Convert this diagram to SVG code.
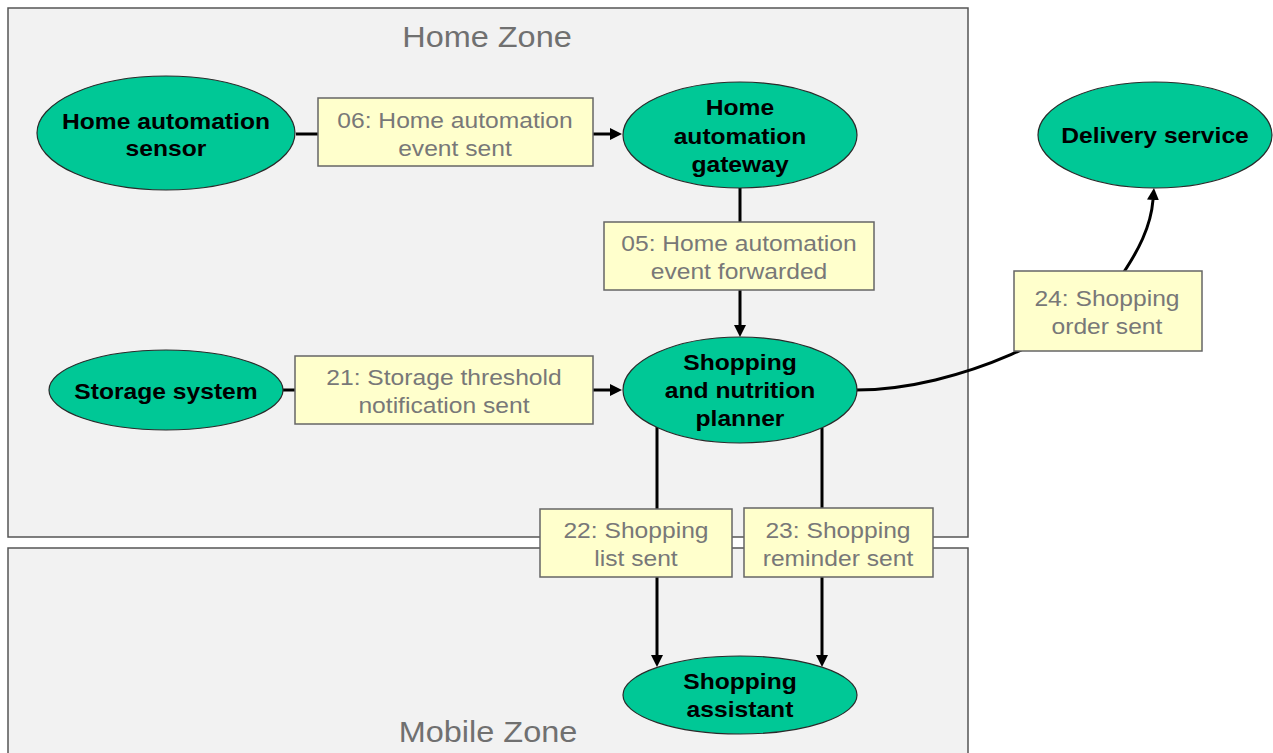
<svg xmlns="http://www.w3.org/2000/svg" width="1273" height="753" viewBox="0 0 1273 753">
  <style>
    .zone { fill: #f2f2f2; stroke: #555; stroke-width: 1.5; }
    .zt { font-family: "Liberation Sans", Arial, sans-serif; font-size: 29px; fill: #707070; text-anchor: middle; }
    .node ellipse { fill: #00c896; stroke: #2a2a2a; stroke-width: 1.2; }
    .nt { font-family: "Liberation Sans", Arial, sans-serif; font-size: 22px; font-weight: bold; fill: #000; text-anchor: middle; }
    .lbl rect { fill: #ffffcc; stroke: #666; stroke-width: 1.5; }
    .lt { font-family: "Liberation Sans", Arial, sans-serif; font-size: 22px; fill: #787878; text-anchor: middle; }
    .zt, .nt, .lt { transform-box: fill-box; transform-origin: center; transform: scaleX(1.12); }
    .conn path { fill: none; stroke: #000; stroke-width: 3; }
  </style>
  <defs>
    <marker id="arr" viewBox="0 0 10 10" refX="0" refY="5" markerWidth="12" markerHeight="12" markerUnits="userSpaceOnUse" orient="auto">
      <path d="M0,0 L10,5 L0,10 z" fill="#000"/>
    </marker>
  </defs>

  <g id="zones">
    <g id="home-zone">
      <rect class="zone" x="8" y="8" width="960" height="529"/>
      <text class="zt" x="487" y="47">Home Zone</text>
    </g>
    <g id="mobile-zone">
      <rect class="zone" x="8" y="548" width="960" height="220"/>
      <text class="zt" x="488" y="742">Mobile Zone</text>
    </g>
  </g>

  <g id="connectors" class="conn">
    <path d="M296,134 L610,134" marker-end="url(#arr)"/>
    <path d="M740,188 L740,325" marker-end="url(#arr)"/>
    <path d="M283,390 L610,390" marker-end="url(#arr)"/>
    <path d="M657,427 L657,655" marker-end="url(#arr)"/>
    <path d="M822,428 L822,655" marker-end="url(#arr)"/>
    <path d="M856,390 C960,390 1080,330 1115,285 C1140,250 1151,225 1153,200" marker-end="url(#arr)"/>
  </g>

  <g id="labels">
    <g id="label-06" class="lbl">
      <rect x="318" y="98" width="275" height="68"/>
      <text class="lt" x="455" y="128">06: Home automation</text>
      <text class="lt" x="455" y="156">event sent</text>
    </g>
    <g id="label-05" class="lbl">
      <rect x="604" y="222" width="270" height="68"/>
      <text class="lt" x="739" y="251">05: Home automation</text>
      <text class="lt" x="739" y="279">event forwarded</text>
    </g>
    <g id="label-21" class="lbl">
      <rect x="295" y="356" width="298" height="68"/>
      <text class="lt" x="444" y="385">21: Storage threshold</text>
      <text class="lt" x="444" y="413">notification sent</text>
    </g>
    <g id="label-22" class="lbl">
      <rect x="540" y="509" width="192" height="68"/>
      <text class="lt" x="636" y="538">22: Shopping</text>
      <text class="lt" x="636" y="566">list sent</text>
    </g>
    <g id="label-23" class="lbl">
      <rect x="744" y="508" width="189" height="69"/>
      <text class="lt" x="838" y="538">23: Shopping</text>
      <text class="lt" x="838" y="566">reminder sent</text>
    </g>
    <g id="label-24" class="lbl">
      <rect x="1014" y="271" width="188" height="80"/>
      <text class="lt" x="1107" y="306">24: Shopping</text>
      <text class="lt" x="1107" y="334">order sent</text>
    </g>
  </g>

  <g id="node-sensor" class="node">
    <ellipse cx="166" cy="133" rx="129" ry="57"/>
    <text class="nt" x="166" y="129">Home automation</text>
    <text class="nt" x="166" y="156">sensor</text>
  </g>
  <g id="node-gateway" class="node">
    <ellipse cx="740" cy="135" rx="117" ry="53"/>
    <text class="nt" x="740" y="115">Home</text>
    <text class="nt" x="740" y="144">automation</text>
    <text class="nt" x="740" y="172">gateway</text>
  </g>
  <g id="node-delivery" class="node">
    <ellipse cx="1155" cy="135" rx="117" ry="53"/>
    <text class="nt" x="1155" y="143">Delivery service</text>
  </g>
  <g id="node-storage" class="node">
    <ellipse cx="166" cy="390" rx="117" ry="40"/>
    <text class="nt" x="166" y="399">Storage system</text>
  </g>
  <g id="node-planner" class="node">
    <ellipse cx="740" cy="390" rx="117" ry="53"/>
    <text class="nt" x="740" y="370">Shopping</text>
    <text class="nt" x="740" y="398">and nutrition</text>
    <text class="nt" x="740" y="426">planner</text>
  </g>
  <g id="node-assistant" class="node">
    <ellipse cx="740" cy="695" rx="117" ry="39"/>
    <text class="nt" x="740" y="689">Shopping</text>
    <text class="nt" x="740" y="717">assistant</text>
  </g>
</svg>
